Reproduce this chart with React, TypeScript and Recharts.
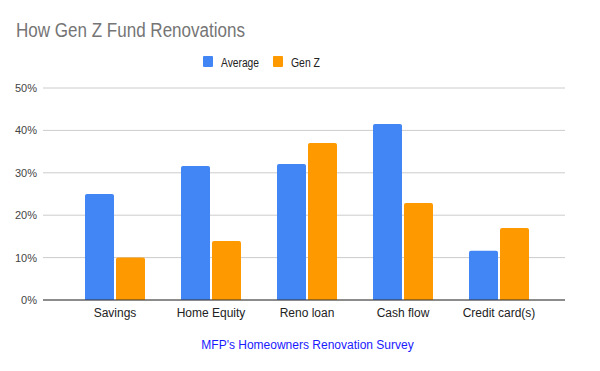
import React from 'react';
import { BarChart, Bar, XAxis, YAxis, CartesianGrid } from 'recharts';

const categories = ['Savings', 'Home Equity', 'Reno loan', 'Cash flow', 'Credit card(s)'];
const averageValues = [25, 31.6, 32.1, 41.5, 11.6];
const genZValues = [10, 13.9, 37, 22.9, 17];
const yTicks = [0, 10, 20, 30, 40, 50];
const seriesNames = ['Average', 'Gen Z'];
const seriesColors = ['#4285F4', '#FF9900'];
const titleText = 'How Gen Z Fund Renovations';
const footerText = "MFP's Homeowners Renovation Survey";

const data = categories.map((c, i) => ({ name: c, average: averageValues[i], genZ: genZValues[i] }));

const FONT = '"Liberation Sans", Arial, sans-serif';

export default function App() {
  return (
    <div style={{ position: 'relative', width: 600, height: 371, background: '#fff', fontFamily: FONT }}>
      <style>{'body{margin:0;}'}</style>
      <BarChart
        width={600}
        height={371}
        data={data}
        margin={{ top: 88, right: 35, bottom: 41, left: 8 }}
        barSize={29}
        barGap={2}
      >
        <CartesianGrid vertical={false} stroke="#cccccc" />
        <XAxis
          dataKey="name"
          height={30}
          padding={{ left: 24, right: 18 }}
          tickLine={false}
          axisLine={{ stroke: '#333333' }}
          tick={{ fill: '#222222', fontSize: 12, fontFamily: FONT }}
          interval={0}
        />
        <YAxis
          width={35}
          domain={[0, 50]}
          ticks={yTicks}
          tickFormatter={(v: number) => `${v}%`}
          axisLine={false}
          tickLine={false}
          tickMargin={0}
          tick={{ fill: '#444444', fontSize: 11, fontFamily: FONT }}
        />
        <Bar dataKey="average" name={seriesNames[0]} fill={seriesColors[0]} radius={[2, 2, 0, 0]} isAnimationActive={false} />
        <Bar dataKey="genZ" name={seriesNames[1]} fill={seriesColors[1]} radius={[2, 2, 0, 0]} isAnimationActive={false} />
      </BarChart>
      <svg width={600} height={371} style={{ position: 'absolute', left: 0, top: 0, pointerEvents: 'none' }}>
        <text x={16} y={37} fontSize={20} fill="#757575" fontFamily={FONT} textLength={229} lengthAdjust="spacingAndGlyphs">
          {titleText}
        </text>
        <rect x={203} y={56} width={10} height={11} rx={1} fill={seriesColors[0]} />
        <text x={221} y={66.5} fontSize={12} fill="#222222" fontFamily={FONT} textLength={38} lengthAdjust="spacingAndGlyphs">
          {seriesNames[0]}
        </text>
        <rect x={273} y={56} width={10} height={11} rx={1} fill={seriesColors[1]} />
        <text x={291} y={66.5} fontSize={12} fill="#222222" fontFamily={FONT} textLength={29} lengthAdjust="spacingAndGlyphs">
          {seriesNames[1]}
        </text>
        <text x={307.5} y={349} fontSize={12} fill="#1a1aff" fontFamily={FONT} textAnchor="middle">
          {footerText}
        </text>
      </svg>
    </div>
  );
}
